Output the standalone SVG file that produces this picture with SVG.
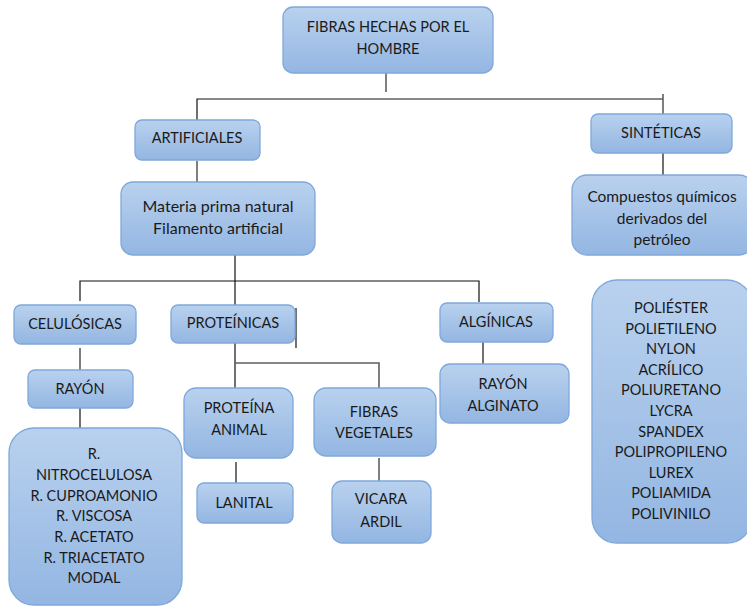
<svg xmlns="http://www.w3.org/2000/svg" width="747" height="606" viewBox="0 0 747 606">
<defs>
<linearGradient id="g" x1="0" y1="0" x2="0" y2="1">
<stop offset="0" stop-color="#b9d1ee"/>
<stop offset="1" stop-color="#93b6e2"/>
</linearGradient>
</defs>
<style>
.b{fill:url(#g);stroke:#7fa8da;stroke-width:1.3}
.t{font-family:Lato,"Liberation Sans",sans-serif;font-size:14.5px;fill:#1a1a1a;text-anchor:middle}
.lc{font-size:16px}
.lc2{font-size:15.5px}
.k{stroke:#111;stroke-width:1.2;fill:none}
.gr{stroke:#5f5f5f;stroke-width:1.6;fill:none}
</style>
<rect width="747" height="606" fill="#fff"/>
<g id="connectors">
<line class="gr" x1="386" y1="73" x2="386" y2="92"/>
<polyline class="k" points="197,120 197,99 663,99"/>
<line class="gr" x1="663" y1="94" x2="663" y2="114"/>
<line class="gr" x1="197" y1="161" x2="197" y2="182"/>
<line class="k" x1="663" y1="153" x2="663" y2="175"/>
<line class="k" x1="235" y1="255" x2="235" y2="305"/>
<polyline class="k" points="80,301 80,281 479,281 479,302"/>
<line class="gr" x1="80" y1="348" x2="80" y2="370"/>
<line class="k" x1="80" y1="408" x2="80" y2="428"/>
<line class="k" x1="235" y1="343" x2="235" y2="388"/>
<polyline class="gr" points="235,363 379,363 379,388"/>
<line class="k" x1="236" y1="462" x2="236" y2="483"/>
<line class="gr" x1="379" y1="458" x2="379" y2="481"/>
<line class="k" x1="483" y1="342" x2="483" y2="364"/>
<line class="k" x1="151" y1="225" x2="151" y2="245"/>
<line class="k" x1="296" y1="308" x2="296" y2="348"/>
</g>
<g id="n-fibras"><rect class="b" x="283" y="7" width="210" height="66" rx="10"/><text class="t" x="388" y="32">FIBRAS HECHAS POR EL</text><text class="t" x="388" y="54">HOMBRE</text></g>
<g id="n-artificiales"><rect class="b" x="135" y="120" width="125" height="40" rx="7"/><text class="t" x="197" y="143">ARTIFICIALES</text></g>
<g id="n-sinteticas"><rect class="b" x="591" y="114" width="141" height="39" rx="7"/><text class="t" x="661" y="138">SINTÉTICAS</text></g>
<g id="n-materia"><rect class="b" x="121" y="182" width="194" height="73" rx="12"/><text class="t lc" x="218" y="212">Materia prima natural</text><text class="t lc" x="218" y="234">Filamento artificial</text></g>
<g id="n-compuestos"><rect class="b" x="572" y="175" width="182" height="80" rx="15"/><text class="t lc2" x="662" y="202">Compuestos químicos</text><text class="t lc2" x="662" y="224">derivados del</text><text class="t lc2" x="662" y="245">petróleo</text></g>
<g id="n-celulosicas"><rect class="b" x="14" y="305" width="122" height="39" rx="7"/><text class="t" x="75" y="329">CELULÓSICAS</text></g>
<g id="n-proteinicas"><rect class="b" x="171" y="305" width="124" height="38" rx="7"/><text class="t" x="233" y="328">PROTEÍNICAS</text></g>
<g id="n-alginicas"><rect class="b" x="440" y="303" width="113" height="39" rx="7"/><text class="t" x="496" y="327">ALGÍNICAS</text></g>
<g id="n-rayon"><rect class="b" x="28" y="370" width="105" height="38" rx="7"/><text class="t" x="80" y="394">RAYÓN</text></g>
<g id="n-rayon-alginato"><rect class="b" x="440" y="364" width="129" height="59" rx="10"/><text class="t" x="503" y="389">RAYÓN</text><text class="t" x="503" y="411">ALGINATO</text></g>
<g id="n-proteina-animal"><rect class="b" x="184" y="388" width="109" height="70" rx="12"/><text class="t" x="239" y="413">PROTEÍNA</text><text class="t" x="239" y="435">ANIMAL</text></g>
<g id="n-fibras-vegetales"><rect class="b" x="314" y="388" width="122" height="68" rx="12"/><text class="t" x="374" y="417">FIBRAS</text><text class="t" x="374" y="438">VEGETALES</text></g>
<g id="n-lanital"><rect class="b" x="197" y="483" width="96" height="40" rx="7"/><text class="t" x="244" y="508">LANITAL</text></g>
<g id="n-vicara"><rect class="b" x="332" y="481" width="99" height="62" rx="10"/><text class="t" x="381" y="504">VICARA</text><text class="t" x="381" y="527">ARDIL</text></g>
<g id="n-rayones"><rect class="b" x="9" y="428" width="173" height="177" rx="25"/>
<text class="t" x="94" y="459">R.</text>
<text class="t" x="94" y="480">NITROCELULOSA</text>
<text class="t" x="94" y="501">R. CUPROAMONIO</text>
<text class="t" x="94" y="521">R. VISCOSA</text>
<text class="t" x="94" y="542">R. ACETATO</text>
<text class="t" x="94" y="563">R. TRIACETATO</text>
<text class="t" x="94" y="583">MODAL</text>
</g>
<g id="n-polimeros"><rect class="b" x="592" y="280" width="160" height="263" rx="25"/>
<text class="t" x="671" y="313">POLIÉSTER</text>
<text class="t" x="671" y="334">POLIETILENO</text>
<text class="t" x="671" y="354">NYLON</text>
<text class="t" x="671" y="375">ACRÍLICO</text>
<text class="t" x="671" y="395">POLIURETANO</text>
<text class="t" x="671" y="416">LYCRA</text>
<text class="t" x="671" y="437">SPANDEX</text>
<text class="t" x="671" y="457">POLIPROPILENO</text>
<text class="t" x="671" y="478">LUREX</text>
<text class="t" x="671" y="498">POLIAMIDA</text>
<text class="t" x="671" y="519">POLIVINILO</text>
</g>
</svg>
